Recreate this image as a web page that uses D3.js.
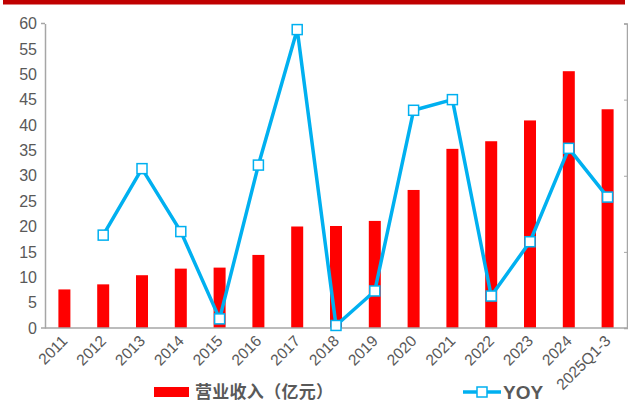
<!DOCTYPE html>
<html><head><meta charset="utf-8">
<script src="https://cdn.jsdelivr.net/npm/d3@7"></script>
<style>body{margin:0;background:#fff;}svg{display:block;}</style>
</head><body>
<svg id="c" width="628" height="405"></svg>
<script>
const categories = ["2011","2012","2013","2014","2015","2016","2017","2018","2019","2020","2021","2022","2023","2024","2025Q1-3"];
const revenue = [7.6,8.6,10.4,11.7,11.9,14.4,20.0,20.1,21.1,27.2,35.3,36.8,40.9,50.6,43.1];
const yoy = [null,18.3,31.4,19.0,1.8,32.1,58.8,0.5,7.3,42.9,45.0,6.3,17.0,35.4,25.8];
const yTicks = [0,5,10,15,20,25,30,35,40,45,50,55,60];
const legendLabels = ["营业收入（亿元）","YOY"];

const svg = d3.select("#c");
const W = 628, H = 405;
const m = {left:45, right:627, top:23.5, bottom:328};
const font = "Arial, 'Liberation Sans', 'Noto Sans CJK SC', sans-serif";

// top red band
svg.append("rect").attr("x",3).attr("y",0).attr("width",622).attr("height",4.5).attr("fill","#C00000");

const x = d3.scaleBand().domain(categories).range([m.left, m.right]).padding(0);
const y = d3.scaleLinear().domain([0,60]).range([m.bottom, m.top]);

// bars
svg.selectAll("rect.bar").data(categories).enter().append("rect")
  .attr("class","bar")
  .attr("x", d => x(d) + x.bandwidth()/2 - 6)
  .attr("width", 12)
  .attr("y", (d,i) => y(revenue[i]))
  .attr("height", (d,i) => y(0) - y(revenue[i]))
  .attr("fill","#FF0000");

// left axis
const yAxis = d3.axisLeft(y).tickValues(yTicks).tickSize(0).tickPadding(8);
const gy = svg.append("g").attr("transform",`translate(${m.left},0)`).call(yAxis);
gy.select(".domain").attr("stroke","#A6A6A6").attr("stroke-width",1.5);
gy.selectAll("text").attr("font-family",font).attr("font-size",16).attr("fill","#595959");
svg.append("line").attr("x1",m.left-4).attr("x2",m.left).attr("y1",m.top).attr("y2",m.top).attr("stroke","#A6A6A6").attr("stroke-width",1.5);

// right axis (labels cropped)
const yR = d3.scaleLinear().domain([0,4]).range([m.bottom, m.top]);
const gr = svg.append("g").attr("transform",`translate(${m.right},0)`).call(d3.axisRight(yR).ticks(4).tickSize(-3).tickFormat(""));
gr.select(".domain").attr("stroke","#A6A6A6").attr("stroke-width",1.5);
gr.selectAll(".tick line").attr("stroke","#A6A6A6");

// x axis
const gx = svg.append("g").attr("transform",`translate(0,${m.bottom})`)
  .call(d3.axisBottom(x).tickSize(0).tickPadding(0));
gx.select(".domain").remove();
svg.append("line").attr("x1",m.left-4).attr("x2",W).attr("y1",m.bottom).attr("y2",m.bottom).attr("stroke","#A6A6A6").attr("stroke-width",1.5);
gx.selectAll("text")
  .attr("font-family",font).attr("font-size",15.5).attr("fill","#595959")
  .attr("text-anchor","end")
  .attr("dy","0")
  .attr("transform","translate(4,14) rotate(-45)");

// line
const pts = categories.map((c,i)=>({c, v: yoy[i]})).filter(d=>d.v!==null);
const line = d3.line().x(d => x(d.c)+x.bandwidth()/2).y(d => y(d.v));
svg.append("path").datum(pts).attr("d",line).attr("fill","none").attr("stroke","#00B0F0").attr("stroke-width",3.5).attr("stroke-linejoin","round");
svg.selectAll("rect.mk").data(pts).enter().append("rect")
  .attr("class","mk")
  .attr("x", d => x(d.c)+x.bandwidth()/2 - 5)
  .attr("y", d => y(d.v) - 5)
  .attr("width",10).attr("height",10)
  .attr("fill","#fff").attr("stroke","#00B0F0").attr("stroke-width",1.5);

// legend
const lg = svg.append("g");
lg.append("rect").attr("x",154).attr("y",387).attr("width",35).attr("height",10).attr("fill","#FF0000");
lg.append("text").attr("x",195).attr("y",398).text(legendLabels[0])
  .attr("font-family","'Noto Sans CJK SC', sans-serif").attr("font-size",17).attr("font-weight","bold").attr("fill","#595959")
  .attr("textLength",138).attr("lengthAdjust","spacing");
lg.append("line").attr("x1",463).attr("x2",501).attr("y1",392).attr("y2",392).attr("stroke","#00B0F0").attr("stroke-width",3.5);
lg.append("rect").attr("x",477).attr("y",387).attr("width",10).attr("height",10).attr("fill","#fff").attr("stroke","#00B0F0").attr("stroke-width",1.5);
lg.append("text").attr("x",503).attr("y",398.5).text(legendLabels[1])
  .attr("font-family",font).attr("font-size",19).attr("font-weight","bold").attr("fill","#595959");
</script>
</body></html>
